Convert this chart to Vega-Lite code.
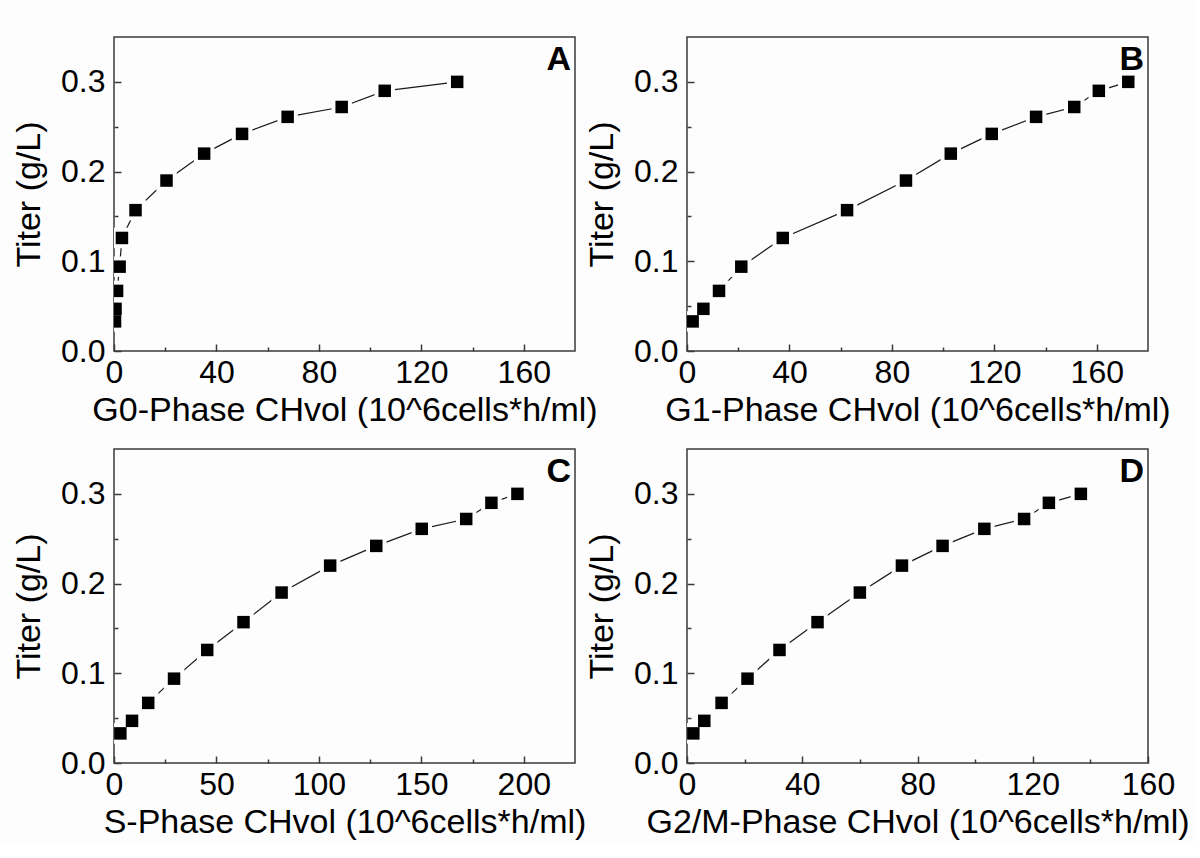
{
  "$schema": "https://vega.github.io/schema/vega-lite/v6.json",
  "background": "#fdfdfd",
  "padding": {"left": 11, "top": 36, "right": 5, "bottom": 5},
  "data": {"values": [
    {"panel": "A", "x": 0.4, "titer": 0.033}, {"panel": "A", "x": 0.6, "titer": 0.047}, {"panel": "A", "x": 1.2, "titer": 0.067},
    {"panel": "A", "x": 2.2, "titer": 0.094}, {"panel": "A", "x": 3.1, "titer": 0.126}, {"panel": "A", "x": 8.4, "titer": 0.157},
    {"panel": "A", "x": 20.5, "titer": 0.19}, {"panel": "A", "x": 35.2, "titer": 0.22}, {"panel": "A", "x": 50.0, "titer": 0.242},
    {"panel": "A", "x": 67.8, "titer": 0.261}, {"panel": "A", "x": 88.9, "titer": 0.272}, {"panel": "A", "x": 105.7, "titer": 0.29},
    {"panel": "A", "x": 134.0, "titer": 0.3},
    {"panel": "B", "x": 2.2, "titer": 0.033}, {"panel": "B", "x": 6.4, "titer": 0.047}, {"panel": "B", "x": 12.5, "titer": 0.067},
    {"panel": "B", "x": 21.2, "titer": 0.094}, {"panel": "B", "x": 37.4, "titer": 0.126}, {"panel": "B", "x": 62.5, "titer": 0.157},
    {"panel": "B", "x": 85.5, "titer": 0.19}, {"panel": "B", "x": 103.0, "titer": 0.22}, {"panel": "B", "x": 119.0, "titer": 0.242},
    {"panel": "B", "x": 136.3, "titer": 0.261}, {"panel": "B", "x": 151.2, "titer": 0.272}, {"panel": "B", "x": 160.8, "titer": 0.29},
    {"panel": "B", "x": 172.3, "titer": 0.3},
    {"panel": "C", "x": 3.1, "titer": 0.033}, {"panel": "C", "x": 8.8, "titer": 0.047}, {"panel": "C", "x": 16.7, "titer": 0.067},
    {"panel": "C", "x": 29.3, "titer": 0.094}, {"panel": "C", "x": 45.5, "titer": 0.126}, {"panel": "C", "x": 63.2, "titer": 0.157},
    {"panel": "C", "x": 81.8, "titer": 0.19}, {"panel": "C", "x": 105.5, "titer": 0.22}, {"panel": "C", "x": 128.0, "titer": 0.242},
    {"panel": "C", "x": 150.2, "titer": 0.261}, {"panel": "C", "x": 171.9, "titer": 0.272}, {"panel": "C", "x": 184.2, "titer": 0.29},
    {"panel": "C", "x": 196.9, "titer": 0.3},
    {"panel": "D", "x": 2.2, "titer": 0.033}, {"panel": "D", "x": 6.0, "titer": 0.047}, {"panel": "D", "x": 12.0, "titer": 0.067},
    {"panel": "D", "x": 21.0, "titer": 0.094}, {"panel": "D", "x": 32.1, "titer": 0.126}, {"panel": "D", "x": 45.3, "titer": 0.157},
    {"panel": "D", "x": 60.0, "titer": 0.19}, {"panel": "D", "x": 74.6, "titer": 0.22}, {"panel": "D", "x": 88.7, "titer": 0.242},
    {"panel": "D", "x": 103.2, "titer": 0.261}, {"panel": "D", "x": 117.0, "titer": 0.272}, {"panel": "D", "x": 125.6, "titer": 0.29},
    {"panel": "D", "x": 136.7, "titer": 0.3}
  ]},
  "columns": 2,
  "spacing": {"column": 112, "row": 98},
  "bounds": "flush",
  "concat": [
    {
      "width": 461, "height": 314,
      "title": {"text": "A"},
      "transform": [{"filter": "datum.panel === 'A'"}],
      "encoding": {
        "x": {"field": "x", "type": "quantitative", "scale": {"domain": [0, 180], "nice": false, "zero": false},
          "axis": {"title": "G0-Phase CHvol (10^6cells*h/ml)", "values": [0, 20, 40, 60, 80, 100, 120, 140, 160],
            "tickSize": {"condition": {"test": "datum.value % 40 === 0", "value": -7}, "value": -4},
            "labelExpr": "datum.value % 40 === 0 ? format(datum.value, 'd') : ''"}},
        "y": {"field": "titer", "type": "quantitative", "scale": {"domain": [0, 0.35], "nice": false, "zero": false},
          "axis": {"title": "Titer (g/L)", "values": [0, 0.05, 0.1, 0.15, 0.2, 0.25, 0.3],
            "tickSize": {"condition": {"test": "round(datum.value*100) % 10 === 0", "value": -7}, "value": -4},
            "labelExpr": "round(datum.value*100) % 10 === 0 ? format(datum.value, '.1f') : ''"}}
      },
      "layer": [
        {"mark": {"type": "line", "color": "#1a1a1a", "strokeWidth": 1.2, "clip": true}},
        {"mark": {"type": "square", "size": 420, "color": "#fdfdfd", "opacity": 1, "clip": true}},
        {"mark": {"type": "square", "size": 156, "color": "#000000", "opacity": 1, "clip": true}}
      ]
    },
    {
      "width": 461, "height": 314,
      "title": {"text": "B"},
      "transform": [{"filter": "datum.panel === 'B'"}],
      "encoding": {
        "x": {"field": "x", "type": "quantitative", "scale": {"domain": [0, 180], "nice": false, "zero": false},
          "axis": {"title": "G1-Phase CHvol (10^6cells*h/ml)", "values": [0, 20, 40, 60, 80, 100, 120, 140, 160],
            "tickSize": {"condition": {"test": "datum.value % 40 === 0", "value": -7}, "value": -4},
            "labelExpr": "datum.value % 40 === 0 ? format(datum.value, 'd') : ''"}},
        "y": {"field": "titer", "type": "quantitative", "scale": {"domain": [0, 0.35], "nice": false, "zero": false},
          "axis": {"title": "Titer (g/L)", "values": [0, 0.05, 0.1, 0.15, 0.2, 0.25, 0.3],
            "tickSize": {"condition": {"test": "round(datum.value*100) % 10 === 0", "value": -7}, "value": -4},
            "labelExpr": "round(datum.value*100) % 10 === 0 ? format(datum.value, '.1f') : ''"}}
      },
      "layer": [
        {"mark": {"type": "line", "color": "#1a1a1a", "strokeWidth": 1.2, "clip": true}},
        {"mark": {"type": "square", "size": 420, "color": "#fdfdfd", "opacity": 1, "clip": true}},
        {"mark": {"type": "square", "size": 156, "color": "#000000", "opacity": 1, "clip": true}}
      ]
    },
    {
      "width": 461, "height": 314,
      "title": {"text": "C"},
      "transform": [{"filter": "datum.panel === 'C'"}],
      "encoding": {
        "x": {"field": "x", "type": "quantitative", "scale": {"domain": [0, 225], "nice": false, "zero": false},
          "axis": {"title": "S-Phase CHvol (10^6cells*h/ml)", "values": [0, 25, 50, 75, 100, 125, 150, 175, 200],
            "tickSize": {"condition": {"test": "datum.value % 50 === 0", "value": -7}, "value": -4},
            "labelExpr": "datum.value % 50 === 0 ? format(datum.value, 'd') : ''"}},
        "y": {"field": "titer", "type": "quantitative", "scale": {"domain": [0, 0.35], "nice": false, "zero": false},
          "axis": {"title": "Titer (g/L)", "values": [0, 0.05, 0.1, 0.15, 0.2, 0.25, 0.3],
            "tickSize": {"condition": {"test": "round(datum.value*100) % 10 === 0", "value": -7}, "value": -4},
            "labelExpr": "round(datum.value*100) % 10 === 0 ? format(datum.value, '.1f') : ''"}}
      },
      "layer": [
        {"mark": {"type": "line", "color": "#1a1a1a", "strokeWidth": 1.2, "clip": true}},
        {"mark": {"type": "square", "size": 420, "color": "#fdfdfd", "opacity": 1, "clip": true}},
        {"mark": {"type": "square", "size": 156, "color": "#000000", "opacity": 1, "clip": true}}
      ]
    },
    {
      "width": 461, "height": 314,
      "title": {"text": "D"},
      "transform": [{"filter": "datum.panel === 'D'"}],
      "encoding": {
        "x": {"field": "x", "type": "quantitative", "scale": {"domain": [0, 160], "nice": false, "zero": false},
          "axis": {"title": "G2/M-Phase CHvol (10^6cells*h/ml)", "values": [0, 20, 40, 60, 80, 100, 120, 140, 160],
            "tickSize": {"condition": {"test": "datum.value % 40 === 0", "value": -7}, "value": -4},
            "labelExpr": "datum.value % 40 === 0 ? format(datum.value, 'd') : ''"}},
        "y": {"field": "titer", "type": "quantitative", "scale": {"domain": [0, 0.35], "nice": false, "zero": false},
          "axis": {"title": "Titer (g/L)", "values": [0, 0.05, 0.1, 0.15, 0.2, 0.25, 0.3],
            "tickSize": {"condition": {"test": "round(datum.value*100) % 10 === 0", "value": -7}, "value": -4},
            "labelExpr": "round(datum.value*100) % 10 === 0 ? format(datum.value, '.1f') : ''"}}
      },
      "layer": [
        {"mark": {"type": "line", "color": "#1a1a1a", "strokeWidth": 1.2, "clip": true}},
        {"mark": {"type": "square", "size": 420, "color": "#fdfdfd", "opacity": 1, "clip": true}},
        {"mark": {"type": "square", "size": 156, "color": "#000000", "opacity": 1, "clip": true}}
      ]
    }
  ],
  "config": {
    "view": {"stroke": "#3a3a3a", "strokeWidth": 1.5},
    "title": {"anchor": "end", "orient": "top", "frame": "group", "offset": -40, "baseline": "bottom", "dx": -4,
      "fontSize": 34, "fontWeight": "bold", "font": "Liberation Sans", "color": "#000"},
    "axis": {"domain": false, "grid": false, "labelFont": "Liberation Sans", "titleFont": "Liberation Sans",
      "labelFontSize": 32, "titleFontSize": 34, "titleFontWeight": "normal", "labelColor": "#000", "titleColor": "#000",
      "tickColor": "#3a3a3a", "tickWidth": 1.5, "labelFlush": false, "labelOverlap": false},
    "axisX": {"labelPadding": 13, "titlePadding": 2},
    "axisY": {"labelPadding": 16, "titlePadding": 14}
  }
}
